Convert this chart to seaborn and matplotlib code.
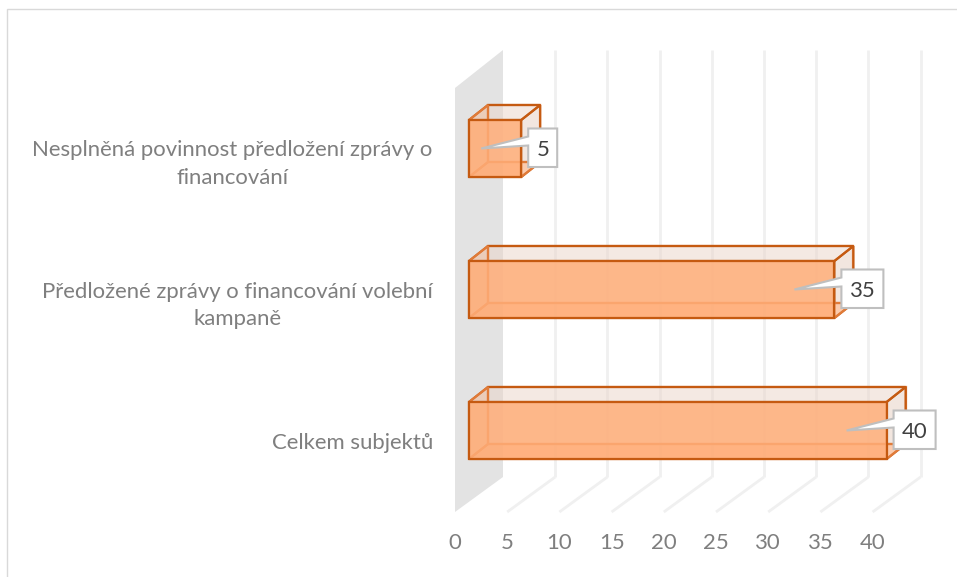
import matplotlib
matplotlib.use("Agg")
import matplotlib.pyplot as plt
from matplotlib.patches import Polygon, Rectangle
import pandas as pd
import seaborn as sns

categories = ["Nesplněná povinnost předložení zprávy o\nfinancování",
              "Předložené zprávy o financování volební\nkampaně",
              "Celkem subjektů"]
values = [5, 35, 40]
tick_values = [0, 5, 10, 15, 20, 25, 30, 35, 40]

W, H = 957, 577
U = 10.44      # px per value unit
ROW = 141.0    # px per category
X0, Y0 = 469, 148.5   # px of value 0 on the bars / first category
DX, DY = 19, 15       # bar depth in px
WALLX, WALLY = 48, 35 # wall depth in px
FONT = 15.9
TXT = "#7f7f7f"
EDGE = "#c55a11"
LW = 1.6

sns.set_theme(style="white")
plt.rcParams['font.family'] = ['Lato', 'DejaVu Sans']

fig = plt.figure(figsize=(W / 100, H / 100), dpi=100, facecolor="white")
L, R, T, B = 455, 935, 50, 512
ax = fig.add_axes([L / W, 1 - B / H, (R - L) / W, (B - T) / H])

df = pd.DataFrame({"cat": categories, "val": values})
sns.barplot(data=df, x="val", y="cat", color="#ffb07a", width=57 / ROW, ax=ax,
            edgecolor=EDGE, linewidth=LW, saturation=1, zorder=5)
for p in ax.patches:
    p.set_facecolor((1.0, 0.68, 0.47, 0.85))
    p.set_edgecolor(EDGE)

ax.set_xlim((L - X0) / U, (R - X0) / U)
ax.set_ylim((B - Y0) / ROW, (T - Y0) / ROW)
for s in ax.spines.values():
    s.set_visible(False)
ax.set_xlabel("")
ax.set_ylabel("")

px = lambda d: d / U
py = lambda d: d / ROW

# axis offset: value ticks sit on the floor's front edge
off = px(L - X0)
ax.set_xticks([v + off for v in tick_values], [str(v) for v in tick_values])
ax.set_yticks([i + py(10) for i in range(len(categories))], categories)
ax.tick_params(axis="x", length=0, pad=15, labelsize=FONT, labelcolor=TXT)
ax.tick_params(axis="y", length=0, pad=16, labelsize=FONT, labelcolor=TXT)
for t in ax.get_yticklabels():
    t.set_multialignment("center")
    t.set_linespacing(1.45)

ybot = (B - Y0) / ROW
ytop = (T - Y0) / ROW
wdx, wdy = px(WALLX), py(WALLY)

# side wall
ax.add_patch(Polygon([(off, ybot), (off + wdx, ybot - wdy), (off + wdx, ytop), (off, ytop + py(38))],
                     closed=True, fc="#e3e3e3", ec="none", zorder=1, clip_on=False))
# gridlines: back wall and floor
for v in tick_values + [45]:
    x = v + off
    if v > 0:
        ax.plot([x + wdx, x + wdx], [ytop, ybot - wdy], color="#f0f0f0", lw=2, zorder=1,
                solid_capstyle="butt", clip_on=False)
    if 0 < v < 45:
        ax.plot([x, x + wdx], [ybot, ybot - wdy], color="#f0f0f0", lw=2, zorder=1,
                solid_capstyle="butt", clip_on=False)

# bar depth faces
hb = 57 / ROW / 2
bdx, bdy = px(DX), py(DY)
for i, v in enumerate(values):
    t, b = i - hb, i + hb
    ax.add_patch(Polygon([(bdx, b - bdy), (v + bdx, b - bdy), (v + bdx, t - bdy), (bdx, t - bdy)],
                         closed=True, fc=(0.93, 0.86, 0.82, 0.35), ec="#e07b39", lw=LW, zorder=2))
    ax.add_patch(Polygon([(v, t), (v + bdx, t - bdy), (v + bdx, b - bdy), (v, b)],
                         closed=True, fc=(0.90, 0.80, 0.75, 0.30), ec=EDGE, lw=LW, zorder=3))
    ax.add_patch(Polygon([(0, t), (bdx, t - bdy), (v + bdx, t - bdy), (v, t)],
                         closed=True, fc=(0.90, 0.80, 0.75, 0.22), ec=EDGE, lw=LW, zorder=3))
    ax.add_patch(Polygon([(0, b), (bdx, b - bdy), (v + bdx, b - bdy), (v, b)],
                         closed=True, fc=(1.0, 0.66, 0.44, 0.5), ec="#e07b39", lw=LW, zorder=3))
    ax.add_patch(Polygon([(0, t), (bdx, t - bdy), (bdx, b - bdy), (0, b)],
                         closed=True, fc=(1.0, 0.66, 0.44, 0.3), ec="#e07b39", lw=LW, zorder=3))

# data-label callouts
for i, v in enumerate(values):
    bw = 29 if v < 10 else 42
    x0 = v + px(7)
    x1 = x0 + px(bw)
    y0, y1 = i - py(20), i + py(18.5)
    ax.add_patch(Polygon([(x0, y0), (x1, y0), (x1, y1), (x0, y1), (x0, i - py(3)),
                          (v - px(40), i), (x0, i - py(12))],
                         closed=True, fc="white", ec="#bfbfbf", lw=1.5, zorder=6,
                         joinstyle="miter", clip_on=False))
    ax.text((x0 + x1) / 2, (y0 + y1) / 2, str(v), ha="center", va="center_baseline",
            fontsize=FONT, color="#404040", zorder=7)

# chart frame
fig.add_artist(Rectangle((7 / W, -0.01), 1, 1 - 9 / H + 0.01, transform=fig.transFigure,
                         fill=False, ec="#d9d9d9", lw=1))

fig.savefig("out.png", dpi=100)
